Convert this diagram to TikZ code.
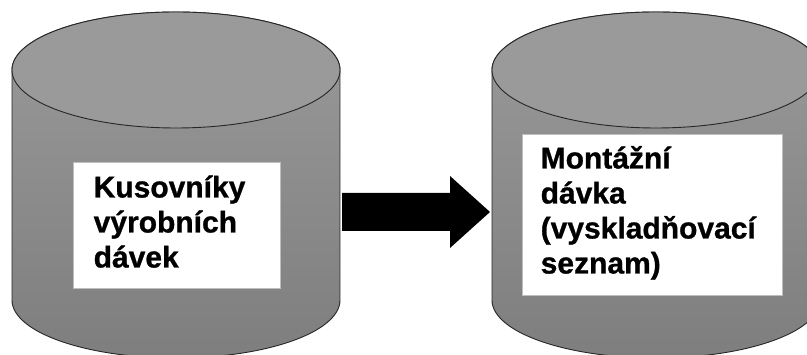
\documentclass[tikz,border=0pt]{standalone}
\usepackage{fontspec}
\setmainfont{Liberation Sans}[BoldFont={Liberation Sans Bold}, BoldFeatures={FakeBold=0.9}]
\usetikzlibrary{calc}
\definecolor{cyltop}{RGB}{154,154,154}
\definecolor{cylbot}{RGB}{126,126,126}
\definecolor{boxline}{RGB}{190,190,190}
\tikzset{
  cylbody/.style={draw=black!85, line width=0.9pt, top color=cyltop, bottom color=cylbot},
  cyllid/.style={draw=black!85, line width=0.9pt, fill=cyltop},
  labelbox/.style={draw=boxline, line width=1pt, fill=white, inner sep=0pt},
  labeltext/.style={font=\fontsize{30}{35}\selectfont\bfseries, align=left, inner sep=0pt},
  bigarrow/.style={fill=black, draw=none}
}
\newcommand{\drumat}[2]{%
  % cylinder centred at x=#1, lid centre height #2
  \path[cylbody] (#1-164,#2) -- (#1-164,#2-230)
    arc[start angle=180, end angle=360, x radius=164, y radius=58]
    -- (#1+164,#2) arc[start angle=0, end angle=180, x radius=164, y radius=58] -- cycle;
  \path[cyllid] (#1,#2) ellipse[x radius=164, y radius=58];
}
\begin{document}
\begin{tikzpicture}[x=1pt,y=1pt]
  \useasboundingbox (0,0) rectangle (807,355);
  \clip (0,0) rectangle (807,355);
  \fill[white] (0,0) rectangle (807,355);

  % two storage drums
  \drumat{176}{285}
  \drumat{656}{285}

  % label boxes
  \node[labelbox, minimum width=207pt, minimum height=126pt] (lbox) at (176.5,129) {};
  \node[labelbox, minimum width=260pt, minimum height=161pt] (rbox) at (652,139.5) {};

  % the base anchor sits on the last line of a multi-line node
  \node[labeltext, anchor=base west] (ltext) at ($(lbox.north west)+(21,-105)$)
    {Kusovníky\\výrobních\\dávek};
  \node[labeltext, anchor=base west] (rtext) at ($(rbox.north west)+(19,-139)$)
    {Montážní\\dávka\\(vyskladňovací\\seznam)};

  % transfer arrow between the drums: shaft 38 high, head 72 high and 40 long
  \coordinate (from) at (342,143);
  \coordinate (to) at (490,143);
  \fill[bigarrow] ($(from)+(0,19)$) -- ($(to)+(-40,19)$) -- ($(to)+(-40,36)$) -- (to)
    -- ($(to)+(-40,-36)$) -- ($(to)+(-40,-19)$) -- ($(from)+(0,-19)$) -- cycle;
\end{tikzpicture}
\end{document}
